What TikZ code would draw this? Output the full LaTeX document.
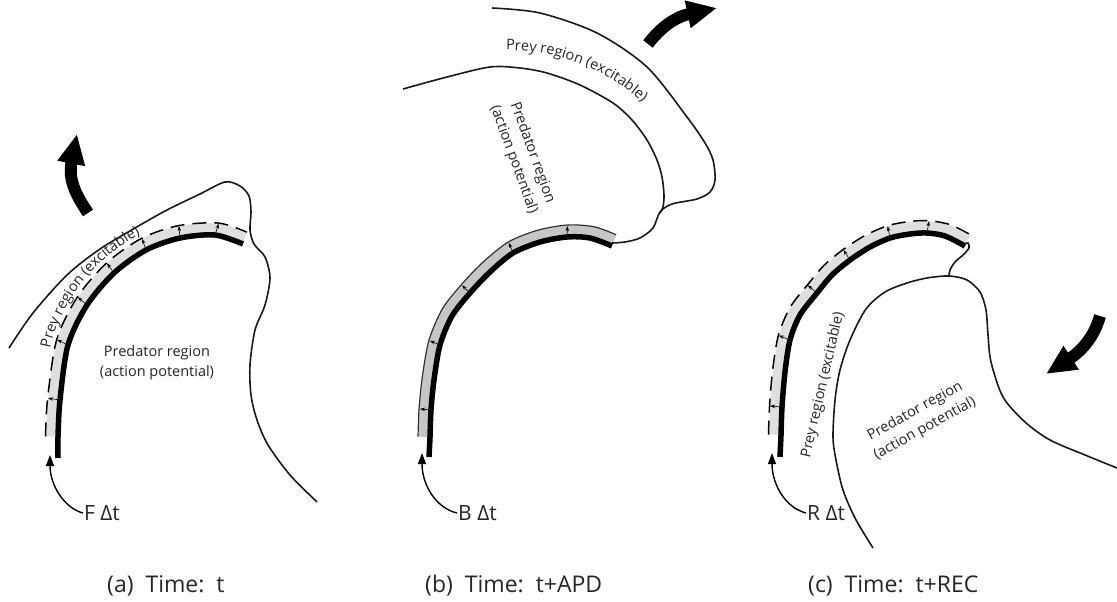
\documentclass[tikz,border=0pt]{standalone}
\usepackage{fontspec}
\setmainfont{Open Sans}
\usetikzlibrary{calc,arrows.meta,decorations.text}
\begin{document}
\begin{tikzpicture}[x=1pt,y=-1pt,
  thinline/.style={line width=1.6pt, black!90},
  front/.style={line width=5.5pt},
  bandlight/.style={line width=10pt, gray!25},
  banddark/.style={line width=10pt, gray!45},
  dashedge/.style={line width=1.5pt, dash pattern=on 14pt off 8pt},
  bigarrow/.style={line width=12pt, -{Triangle[length=30pt,width=26pt]}},
  smallarrow/.style={line width=0.6pt, -{Stealth[length=5pt,width=3.5pt]}},
  lbl/.style={font=\fontsize{14.5}{20}\selectfont, align=center, text=black!85, inner sep=0pt},
  dtlbl/.style={font=\fontsize{21}{23}\selectfont, text=black!85, inner sep=1pt, anchor=west},
  caplbl/.style={font=\fontsize{23}{25}\selectfont, text=black!85, inner sep=0pt, anchor=base west},
  dtarrow/.style={line width=1.4pt, -{Triangle[length=11pt,width=8pt]}},
  pathtext/.style={decorate, decoration={text along path, text align={#1},
     text={|\fontsize{14.5}{18}\selectfont\color{black!85}|Prey region (excitable)}}}
]
\useasboundingbox (0,0) rectangle (1117,602);

% ================= panel (a) =================
\coordinate (a0) at (58,458);
\coordinate (a1) at (58,437);
\coordinate (a2) at (60,400);
\coordinate (a3) at (68,345);
\coordinate (a4) at (87,305);
\coordinate (a5) at (114,273);
\coordinate (a6) at (146,250);
\coordinate (a7) at (180,238);
\coordinate (a8) at (215,235);
\coordinate (a9) at (243,244);
\foreach \i/\j in {1/2,2/3,3/4,4/5,5/6,6/7,7/8,8/9}{
  \coordinate (ab\i) at ($(a\i)!7pt!90:(a\j)$);
  \coordinate (ad\i) at ($(a\i)!12.5pt!90:(a\j)$);
  \coordinate (at\i) at ($(a\i)!17pt!90:(a\j)$);
}
\coordinate (ab9) at ($(a9)!7pt!-90:(a8)$);
\coordinate (ad9) at ($(a9)!12.5pt!-90:(a8)$);
\coordinate (at9) at ($(a9)!17pt!-90:(a8)$);
\draw[bandlight] plot[smooth] coordinates {(ab1)(ab2)(ab3)(ab4)(ab5)(ab6)(ab7)(ab8)(ab9)};
\draw[dashedge] plot[smooth] coordinates {(ad1)(ad2)(ad3)(ad4)(ad5)(ad6)(ad7)(ad8)(ad9)};
\draw[front] plot[smooth] coordinates {(a0)(a1)(a2)(a3)(a4)(a5)(a6)(a7)(a8)(a9)};
\foreach \i/\j in {2/3,3/4,4/5,5/6,6/7,7/8,8/9}{
  \draw[smallarrow] ($(a\i)!3pt!90:(a\j)$) -- ($(a\i)!12pt!90:(a\j)$);
}
\draw[thinline] plot[smooth] coordinates {(9,348) (33,313) (67,275) (100,249) (135,228) (167,210) (200,194) (225,182) (240,186) (249,196) (251,212) (250,230) (254,244) (265,257) (270,278) (265,305) (255,330) (250,365) (251,395) (257,420) (268,445) (290,475) (317,502)};
\draw[bigarrow] (88,213) .. controls (76,195) and (68,180) .. (77,134);
\path[pathtext={left indent=50pt}] plot[smooth] coordinates {(at2)(at3)(at4)(at5)(at6)(at7)(at8)(at9)};
\node[lbl] (apred) at (157,363) {Predator region\\(action potential)};
\node[dtlbl] (adt) at (83,513) {F Δt};
\draw[dtarrow] (adt.west) .. controls (64,508) and (50,485) .. (50,455);
\node[caplbl] (acap) at (107,592) {(a)\ \ Time:\ \ t};

% ================= panel (b) =================
\coordinate (b0) at (429,457);
\coordinate (b1) at (430,437);
\coordinate (b2) at (431,410);
\coordinate (b3) at (434,380);
\coordinate (b4) at (440,345);
\coordinate (b5) at (452,316);
\coordinate (b6) at (470,293);
\coordinate (b7) at (490,272);
\coordinate (b8) at (513,253);
\coordinate (b9) at (540,242);
\coordinate (b10) at (567,237);
\coordinate (b11) at (590,238);
\coordinate (b12) at (612,246);
\foreach \i/\j in {1/2,2/3,3/4,4/5,5/6,6/7,7/8,8/9,9/10,10/11,11/12}{
  \coordinate (bb\i) at ($(b\i)!7pt!90:(b\j)$);
  \coordinate (bd\i) at ($(b\i)!12pt!90:(b\j)$);
}
\coordinate (bb12) at ($(b12)!7pt!-90:(b11)$);
\coordinate (bd12) at ($(b12)!12pt!-90:(b11)$);
\draw[banddark] plot[smooth] coordinates {(bb1)(bb2)(bb3)(bb4)(bb5)(bb6)(bb7)(bb8)(bb9)(bb10)(bb11)(bb12)};
\draw[line width=1.2pt, black!80] plot[smooth] coordinates {(bd1)(bd2)(bd3)(bd4)(bd5)(bd6)(bd7)(bd8)(bd9)(bd10)(bd11)(bd12)};
\draw[front] plot[smooth] coordinates {(b0)(b1)(b2)(b3)(b4)(b5)(b6)(b7)(b8)(b9)(b10)(b11)(b12)};
\foreach \i/\j in {2/3,4/5,6/7,8/9,10/11}{
  \draw[smallarrow] ($(b\i)!3pt!90:(b\j)$) -- ($(b\i)!11pt!90:(b\j)$);
}
\draw[thinline] plot[smooth] coordinates {(492,8) (540,13) (597,33) (647,67) (687,117) (705,143) (713,160) (715,180) (710,192) (697,199) (672,204) (660,212) (653,228) (640,238) (625,242) (612,243)};
\draw[thinline] plot[smooth] coordinates {(403,89) (447,77) (490,67) (520,68) (547,73) (580,85) (613,103) (632,120) (647,140) (657,160) (662,177) (664,195) (663,207) (660,213)};
\draw[bigarrow] (648,44) .. controls (660,28) and (675,17) .. (717,8);
\coordinate (bt0) at (506,50);
\coordinate (bt1) at (652,112);
\path[pathtext={left}] (bt0) .. controls (560,50) and (615,72) .. (bt1);
\node[lbl, rotate=-70] (bpred) at (523,156) {Predator region\\(action potential)};
\node[dtlbl] (bdt) at (457,513) {B Δt};
\draw[dtarrow] (bdt.west) .. controls (436,508) and (422,485) .. (422,453);
\node[caplbl] (bcap) at (425,592) {(b)\ \ Time:\ \ t+APD};

% ================= panel (c) =================
\coordinate (c0) at (780,457);
\coordinate (c1) at (781,435);
\coordinate (c2) at (782,407);
\coordinate (c3) at (785,372);
\coordinate (c4) at (790,340);
\coordinate (c5) at (800,315);
\coordinate (c6) at (817,293);
\coordinate (c7) at (832,275);
\coordinate (c8) at (850,260);
\coordinate (c9) at (870,247);
\coordinate (c10) at (890,238);
\coordinate (c11) at (910,234);
\coordinate (c12) at (927,233);
\coordinate (c13) at (945,236);
\coordinate (c14) at (965,246);
\foreach \i/\j in {1/2,2/3,3/4,4/5,5/6,6/7,7/8,8/9,9/10,10/11,11/12,12/13,13/14}{
  \coordinate (cb\i) at ($(c\i)!7pt!90:(c\j)$);
  \coordinate (cd\i) at ($(c\i)!12.5pt!90:(c\j)$);
}
\coordinate (cb14) at ($(c14)!7pt!-90:(c13)$);
\coordinate (cd14) at ($(c14)!12.5pt!-90:(c13)$);
\draw[bandlight] plot[smooth] coordinates {(cb1)(cb2)(cb3)(cb4)(cb5)(cb6)(cb7)(cb8)(cb9)(cb10)(cb11)(cb12)(cb13)(cb14)};
\draw[dashedge] plot[smooth] coordinates {(cd1)(cd2)(cd3)(cd4)(cd5)(cd6)(cd7)(cd8)(cd9)(cd10)(cd11)(cd12)(cd13)(cd14)};
\draw[front] plot[smooth] coordinates {(c0)(c1)(c2)(c3)(c4)(c5)(c6)(c7)(c8)(c9)(c10)(c11)(c12)(c13)(c14)};
\foreach \i/\j in {2/3,4/5,6/7,8/9,10/11,12/13}{
  \draw[smallarrow] ($(c\i)!3pt!90:(c\j)$) -- ($(c\i)!12pt!90:(c\j)$);
}
\draw[thinline] plot[smooth] coordinates {(965,244) (968,243) (969,248) (963,255) (955,262) (950,270) (949,276)};
\draw[thinline] plot[smooth] coordinates {(873,548) (855,518) (843,490) (836,460) (833,437) (835,400) (840,370) (850,340) (866,309) (885,292) (907,283) (927,278) (949,276) (967,280) (980,292) (986,310) (988,335) (991,362) (1003,397) (1025,422) (1050,440) (1085,455) (1117,468)};
\draw[bigarrow] (1100,316) .. controls (1094,338) and (1080,352) .. (1046,374);
\node[lbl, rotate=77] (cprey) at (823,385) {Prey region (excitable)};
\node[lbl, rotate=29] (cpred) at (920,420) {Predator region\\(action potential)};
\node[dtlbl] (cdt) at (806,513) {R Δt};
\draw[dtarrow] (cdt.west) .. controls (786,508) and (772,485) .. (772,453);
\node[caplbl] (ccap) at (808,592) {(c)\ \ Time:\ \ t+REC};
\end{tikzpicture}
\end{document}
